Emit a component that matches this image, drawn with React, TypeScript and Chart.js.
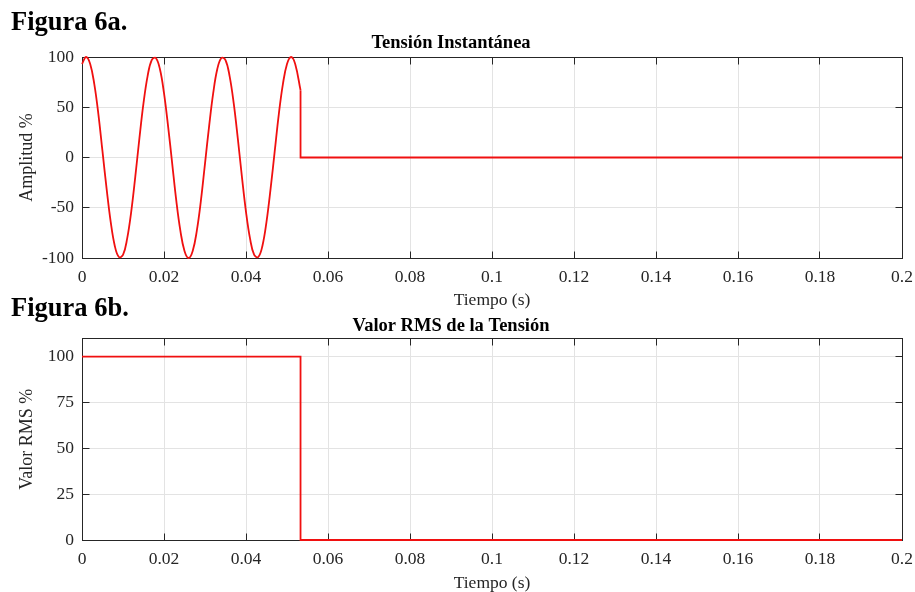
import React, { useEffect, useRef } from 'react';
import { Chart, registerables } from 'chart.js';

Chart.register(...registerables);

// ---------- data ----------
const xTickValues = [0, 0.02, 0.04, 0.06, 0.08, 0.1, 0.12, 0.14, 0.16, 0.18, 0.2];
const xTickLabels = ['0', '0.02', '0.04', '0.06', '0.08', '0.1', '0.12', '0.14', '0.16', '0.18', '0.2'];

const instYTicks = [-100, -50, 0, 50, 100];
const instYLabels = ['-100', '-50', '0', '50', '100'];
const rmsYTicks = [0, 25, 50, 75, 100];
const rmsYLabels = ['0', '25', '50', '75', '100'];

// Instantaneous voltage (%), every 1 ms until the interruption
const instTime = [
  0, 0.001, 0.002, 0.003, 0.004, 0.005, 0.006, 0.007, 0.008, 0.009,
  0.01, 0.011, 0.012, 0.013, 0.014, 0.015, 0.016, 0.017, 0.018, 0.019,
  0.02, 0.021, 0.022, 0.023, 0.024, 0.025, 0.026, 0.027, 0.028, 0.029,
  0.03, 0.031, 0.032, 0.033, 0.034, 0.035, 0.036, 0.037, 0.038, 0.039,
  0.04, 0.041, 0.042, 0.043, 0.044, 0.045, 0.046, 0.047, 0.048, 0.049,
  0.05, 0.051, 0.052, 0.0533,
];
const instValue = [
  93, 100, 93, 73, 43, 6, -31, -64, -88, -99,
  -97, -81, -54, -19, 19, 54, 81, 97, 99, 88,
  64, 31, -6, -43, -73, -93, -100, -93, -73, -43,
  -6, 31, 64, 88, 99, 97, 81, 54, 19, -19,
  -54, -81, -97, -99, -88, -64, -31, 6, 43, 73,
  93, 100, 93, 67,
];
const instTailTime = [0.0533, 0.0533, 0.2];
const instTailValue = [67, 0, 0];

// RMS value (%)
const rmsTime = [0, 0.0533, 0.0533, 0.2];
const rmsValue = [100, 100, 0, 0];

// ---------- styles ----------
const FONT = "'Liberation Serif', 'Times New Roman', serif";
const AX = '#262626';
const GRID = '#e3e3e3';
const RED = '#f01010';
const K = 0.3375; // middle-to-baseline ratio

const toPts = (xs: number[], ys: number[]) => xs.map((x, i) => ({ x, y: ys[i] }));

const boxPlugin = {
  id: 'matlabBox',
  beforeDatasetsDraw(chart: any) {
    const { ctx, chartArea: a, scales } = chart;
    const al = (p: number) => Math.round(p - 0.5) + 0.5;
    const L = al(a.left), R = al(a.right), T = al(a.top), B = al(a.bottom);
    ctx.save();
    ctx.strokeStyle = AX;
    ctx.lineWidth = 1;
    ctx.strokeRect(L, T, R - L, B - T);
    const tl = 7;
    ctx.beginPath();
    for (const t of scales.x.ticks) {
      const px = al(scales.x.getPixelForValue(t.value));
      ctx.moveTo(px, B); ctx.lineTo(px, B - tl);
      ctx.moveTo(px, T); ctx.lineTo(px, T + tl);
    }
    for (const t of scales.y.ticks) {
      const py = al(scales.y.getPixelForValue(t.value));
      ctx.moveTo(L, py); ctx.lineTo(L + tl, py);
      ctx.moveTo(R, py); ctx.lineTo(R - tl, py);
    }
    ctx.stroke();
    ctx.restore();
  },
};

interface Geo { ct: number; ch: number; pTop: number; pBot: number; tB: number; xtB: number; }

function makeConfig(
  geo: Geo,
  datasets: any[],
  title: string,
  yTitle: string,
  yMin: number,
  yMax: number,
  yTicks: number[],
  yLabels: string[],
) {
  const titleSize = 18.5, titleLH = titleSize * 1.2;
  const tPadTop = geo.tB - geo.ct - K * titleSize - titleLH / 2;
  const tPadBot = geo.pTop - geo.ct - tPadTop - titleLH;
  const tickSize = 17.5, xTickPad = 9;
  const xtSize = 17.5;
  const xAxisHeight = geo.xtB - K * xtSize + xtSize / 2 - geo.pBot;
  const layoutBottom = geo.ch - (geo.pBot - geo.ct) - xAxisHeight;
  const ySize = 18;
  const yTitlePad = 33 - K * ySize - ySize / 2;

  return {
    type: 'line',
    data: { datasets },
    options: {
      animation: false,
      responsive: false,
      maintainAspectRatio: false,
      layout: { padding: { left: 0, right: 915 - 902, top: 0, bottom: layoutBottom } },
      plugins: {
        legend: { display: false },
        tooltip: { enabled: false },
        title: {
          display: true,
          text: title,
          color: '#000',
          font: { family: FONT, size: titleSize, weight: 'bold', lineHeight: 1.2 },
          padding: { top: tPadTop, bottom: tPadBot },
        },
      },
      elements: { point: { radius: 0 } },
      scales: {
        x: {
          type: 'linear',
          min: 0,
          max: 0.2,
          afterBuildTicks: (s: any) => { s.ticks = xTickValues.map((v) => ({ value: v })); },
          afterFit: (s: any) => {
            s.height = xAxisHeight;
            s.paddingLeft = 0;
            s.paddingRight = 0;
          },
          ticks: {
            autoSkip: false,
            maxRotation: 0,
            padding: xTickPad,
            color: AX,
            font: { family: FONT, size: tickSize, lineHeight: 1.2 },
            callback: (_v: any, i: number) => xTickLabels[i],
          },
          grid: { color: GRID, drawTicks: false, lineWidth: 1 },
          border: { display: true, color: AX, width: 1 },
          title: {
            display: true,
            text: 'Tiempo (s)',
            color: AX,
            font: { family: FONT, size: xtSize, lineHeight: 1 },
            padding: { top: 0, bottom: 0 },
          },
        },
        y: {
          type: 'linear',
          min: yMin,
          max: yMax,
          afterBuildTicks: (s: any) => { s.ticks = yTicks.map((v) => ({ value: v })); },
          afterFit: (s: any) => { s.width = 82; },
          ticks: {
            autoSkip: false,
            padding: 8,
            color: AX,
            font: { family: FONT, size: tickSize, lineHeight: 1.2 },
            callback: (_v: any, i: number) => yLabels[i],
          },
          grid: { color: GRID, drawTicks: false, lineWidth: 1 },
          border: { display: true, color: AX, width: 1 },
          title: {
            display: true,
            text: yTitle,
            color: AX,
            font: { family: FONT, size: ySize, lineHeight: 1 },
            padding: { top: yTitlePad, bottom: 0 },
          },
        },
      },
    },
    plugins: [boxPlugin],
  };
}

const lineStyle = { borderColor: RED, borderWidth: 1.8, pointRadius: 0, fill: false, clip: 3 };

const geoA: Geo = { ct: 0, ch: 310, pTop: 57, pBot: 258, tB: 49.5, xtB: 306 };
const geoB: Geo = { ct: 310, ch: 282, pTop: 338.3, pBot: 540, tB: 332, xtB: 589 };

function SubChart({ geo, build }: { geo: Geo; build: () => any }) {
  const ref = useRef<HTMLCanvasElement>(null);
  useEffect(() => {
    const chart = new Chart(ref.current as HTMLCanvasElement, build());
    return () => chart.destroy();
  }, []);
  return (
    <canvas
      ref={ref}
      width={915}
      height={geo.ch}
      style={{ position: 'absolute', left: 0, top: geo.ct, width: 915, height: geo.ch }}
    />
  );
}

const figLabel: React.CSSProperties = {
  position: 'absolute',
  left: 11,
  fontFamily: FONT,
  fontWeight: 'bold',
  fontSize: 26.5,
  lineHeight: '26.5px',
  color: '#000',
  whiteSpace: 'nowrap',
};

export default function App() {
  return (
    <div style={{ position: 'absolute', left: 0, top: 0, width: 915, height: 592, overflow: 'hidden', background: '#fff' }}>
      <SubChart
        geo={geoA}
        build={() =>
          makeConfig(
            geoA,
            [
              { ...lineStyle, data: toPts(instTime, instValue), tension: 0.4 },
              { ...lineStyle, data: toPts(instTailTime, instTailValue), tension: 0 },
            ],
            'Tensión Instantánea',
            'Amplitud %',
            -100,
            100,
            instYTicks,
            instYLabels,
          )
        }
      />
      <SubChart
        geo={geoB}
        build={() =>
          makeConfig(
            geoB,
            [{ ...lineStyle, data: toPts(rmsTime, rmsValue), tension: 0 }],
            'Valor RMS de la Tensión',
            'Valor RMS %',
            0,
            110,
            rmsYTicks,
            rmsYLabels,
          )
        }
      />
      <div style={{ ...figLabel, top: 30 - 0.8375 * 26.5 }}>Figura 6a.</div>
      <div style={{ ...figLabel, top: 316.5 - 0.8375 * 26.5 }}>Figura 6b.</div>
    </div>
  );
}
